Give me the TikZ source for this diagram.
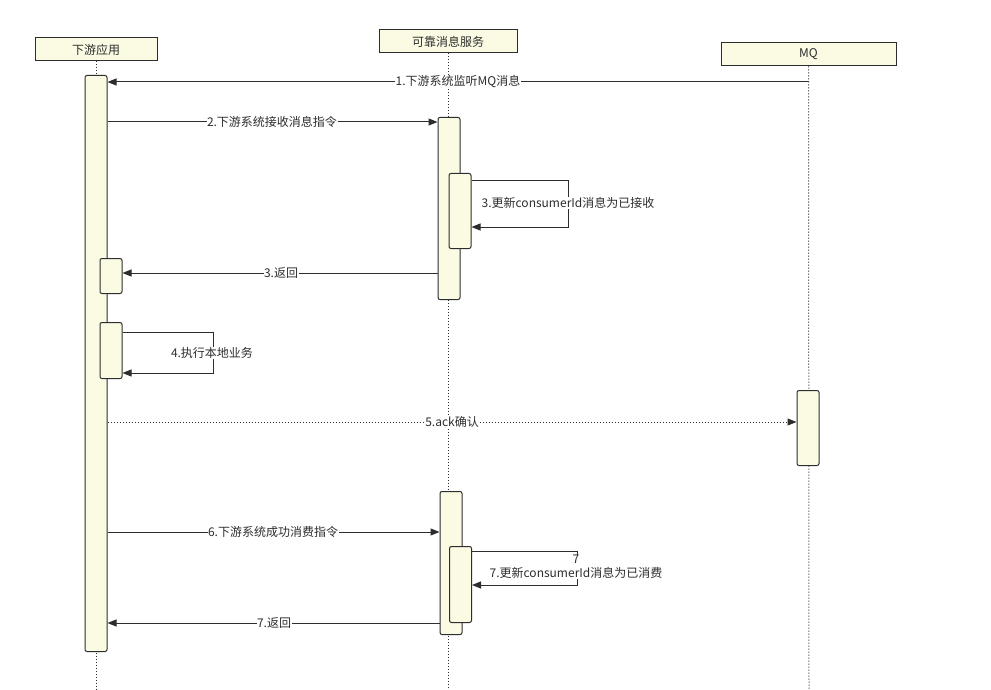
\documentclass[tikz,border=0pt]{standalone}
\usepackage{fontspec}
\setmainfont{Noto Sans CJK SC}
\usetikzlibrary{arrows.meta}
\definecolor{boxfill}{RGB}{251,251,228}
\definecolor{ink}{RGB}{45,45,45}
\tikzset{
  hdr/.style={draw=ink, line width=1pt, fill=boxfill, minimum height=23pt, inner sep=0pt, font=\fontsize{12}{14}\selectfont, text=ink},
  actbar/.style={draw=ink, line width=1pt, fill=boxfill, rounded corners=2pt, minimum width=22pt, inner sep=0pt, anchor=north},
  life/.style={draw=ink, line width=1pt, dotted},
  msg/.style={draw=ink, line width=1pt, -{Triangle[length=9pt,width=7pt]}},
  dmsg/.style={msg, dotted},
  lbl/.style={fill=white, inner sep=0.5pt, font=\fontsize{12}{14}\selectfont, text=ink, align=center},
}
\begin{document}
\begin{tikzpicture}[x=1pt,y=-1pt]
\useasboundingbox[fill=white] (0,0) rectangle (991,690);
% headers
\node[hdr, minimum width=122pt] (hA) at (96,49.5) {下游应用};
\node[hdr, minimum width=138pt] (hB) at (448,41.5) {可靠消息服务};
\node[hdr, minimum width=175pt] (hC) at (808.5,54.5) {MQ};
% lifeline ends
\coordinate (eA) at (96,690);
\coordinate (eB) at (448,690);
\coordinate (eC) at (809,690);
\draw[life] (hA.south) -- (eA);
\draw[life] (hB.south) -- (eB);
\draw[life] (hC.south) -- (eC);
% activation bars
\node[actbar, minimum height=576pt] (a1) at (96,75) {};
\node[actbar, minimum height=35pt] (a2) at (111,258) {};
\node[actbar, minimum height=56pt] (a3) at (111,322) {};
\node[actbar, minimum height=182pt] (b1) at (449,117) {};
\node[actbar, minimum height=75pt] (b1n) at (460,173) {};
\node[actbar, minimum height=75pt] (m1) at (808,390) {};
\node[actbar, minimum height=143pt] (b2) at (451,491) {};
\node[actbar, minimum height=76pt] (b2n) at (460.5,546) {};
% helper rows
\coordinate (r1) at (809,82);
\coordinate (r2) at (0,122);
\coordinate (r3a) at (0,181);
\coordinate (r3b) at (568,227);
\coordinate (r3r) at (0,273);
\coordinate (r4a) at (0,332);
\coordinate (r4b) at (213,373);
\coordinate (r5) at (0,422);
\coordinate (r6) at (0,532);
\coordinate (r7a) at (0,551);
\coordinate (r7b) at (577,585);
\coordinate (r7r) at (0,623);
% 1
\draw[msg] (r1) -- (a1.east |- r1);
\node[lbl] (l1) at (458,82) {1.下游系统监听MQ消息};
% 2
\draw[msg] (a1.east |- r2) -- (b1.west |- r2);
\node[lbl] (l2) at (272,122) {2.下游系统接收消息指令};
% 3 self loop
\draw[msg] (b1n.east |- r3a) -| (r3b) -- (b1n.east |- r3b);
\node[lbl] (l3) at (568,203) {3.更新consumerId消息为已接收};
% 3 return
\draw[msg] (b1.west |- r3r) -- (a2.east |- r3r);
\node[lbl] (l3r) at (281,273) {3.返回};
% 4 self loop
\draw[msg] (a3.east |- r4a) -| (r4b) -- (a3.east |- r4b);
\node[lbl] (l4) at (212,353) {4.执行本地业务};
% 5
\draw[dmsg] (a1.east |- r5) -- (m1.west |- r5);
\node[lbl] (l5) at (452,422) {5.ack确认};
% 6
\draw[msg] (a1.east |- r6) -- (b2.west |- r6);
\node[lbl] (l6) at (273,532) {6.下游系统成功消费指令};
% 7 self loop
\draw[msg] (b2n.east |- r7a) -| (r7b) -- (b2n.east |- r7b);
\node[lbl] (l7) at (576,567) {7\\7.更新consumerId消息为已消费};
% 7 return
\draw[msg] (b2.west |- r7r) -- (a1.east |- r7r);
\node[lbl] (l7r) at (274,623) {7.返回};
\end{tikzpicture}
\end{document}
